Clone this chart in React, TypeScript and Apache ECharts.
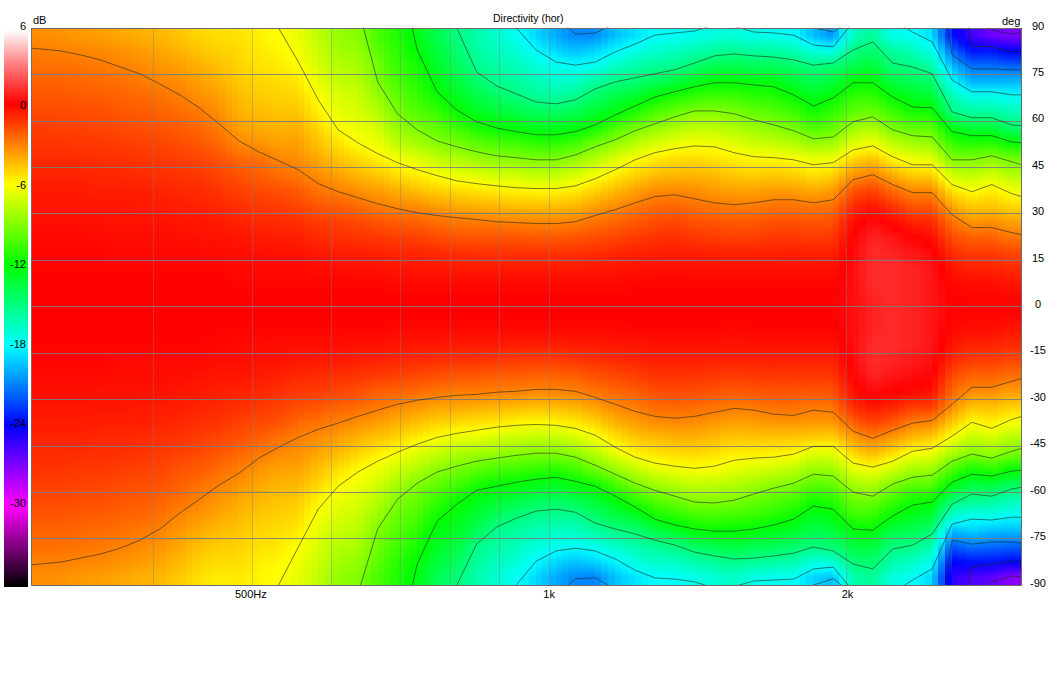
import React, { useEffect, useRef } from "react";
import * as echarts from "echarts";

// Cell centres of the level table
const angleRows = [87.5,82.5,77.5,72.5,67.5,62.5,57.5,52.5,47.5,42.5,37.5,32.5,27.5,22.5,17.5,12.5,7.5,2.5,-2.5,-7.5,-12.5,-17.5,-22.5,-27.5,-32.5,-37.5,-42.5,-47.5,-52.5,-57.5,-62.5,-67.5,-72.5,-77.5,-82.5,-87.5];
const columnHz = [307,321.5,336.6,352.4,369,386.4,404.6,423.7,443.6,464.5,486.4,509.3,533.3,558.4,584.7,612.3,641.1,671.3,702.9,736,770.6,806.9,844.9,884.7,926.4,970,1016,1063,1113,1166,1221,1278,1339,1402,1468,1537,1609,1685,1765,1848,1935,2026,2121,2221,2326,2435,2550,2670,2796,2928];
const contourHz = [300, ...columnHz, 3000];

// Level in tenths of a dB, one list per frequency column, from +87.5 deg down to -87.5 deg
const levelColumns = [
[-33,-29,-26,-23,-20,-17,-14,-12,-10,-8,-6,-5,-3,-2,-1,-1,0,0, 0,0,-1,-1,-2,-3,-5,-6,-8,-10,-12,-14,-17,-20,-23,-26,-30,-33],
[-34,-30,-26,-23,-20,-17,-15,-12,-10,-8,-6,-5,-3,-2,-1,-1,0,0, 0,0,-1,-1,-2,-3,-5,-6,-8,-10,-12,-15,-17,-20,-23,-26,-30,-34],
[-36,-31,-27,-24,-21,-18,-15,-13,-10,-8,-6,-5,-3,-2,-1,-1,0,0, 0,0,-1,-1,-2,-3,-5,-6,-8,-10,-13,-15,-18,-21,-24,-27,-31,-36],
[-37,-32,-28,-25,-21,-18,-16,-13,-11,-9,-7,-5,-4,-2,-1,-1,0,0, 0,0,-1,-1,-2,-4,-5,-7,-9,-11,-13,-16,-18,-21,-25,-28,-32,-37],
[-39,-34,-30,-26,-23,-20,-17,-14,-11,-9,-7,-5,-4,-3,-2,-1,0,0, 0,0,-1,-2,-3,-4,-5,-7,-9,-11,-14,-17,-20,-23,-26,-30,-34,-39],
[-41,-36,-32,-28,-24,-21,-18,-15,-12,-10,-7,-6,-4,-3,-2,-1,0,0, 0,0,-1,-2,-3,-4,-6,-7,-10,-12,-15,-18,-21,-24,-28,-32,-36,-41],
[-43,-39,-35,-31,-26,-23,-19,-16,-13,-11,-8,-6,-4,-3,-2,-1,0,0, 0,0,-1,-2,-3,-4,-6,-8,-11,-13,-16,-19,-23,-26,-31,-35,-39,-43],
[-46,-42,-37,-33,-29,-25,-21,-18,-14,-12,-9,-7,-5,-3,-2,-1,0,0, 0,0,-1,-2,-3,-5,-7,-9,-12,-15,-19,-22,-26,-31,-35,-39,-43,-47],
[-50,-46,-41,-37,-33,-28,-24,-20,-16,-13,-10,-8,-5,-4,-2,-1,0,0, 0,0,-1,-2,-4,-6,-8,-11,-14,-17,-21,-26,-30,-35,-40,-45,-49,-53],
[-53,-49,-45,-41,-37,-33,-29,-24,-19,-16,-12,-9,-6,-4,-3,-1,0,0, 0,-1,-1,-3,-5,-7,-9,-12,-16,-20,-25,-30,-35,-39,-44,-48,-52,-56],
[-53,-51,-49,-47,-44,-41,-37,-31,-24,-19,-15,-11,-8,-5,-3,-2,-1,0, 0,-1,-2,-3,-5,-8,-11,-15,-19,-24,-29,-34,-39,-43,-46,-49,-52,-55],
[-57,-55,-53,-50,-47,-44,-40,-34,-26,-22,-17,-13,-9,-6,-4,-2,-1,0, 0,-1,-2,-4,-6,-9,-13,-17,-22,-28,-34,-39,-43,-47,-50,-53,-56,-58],
[-60,-58,-55,-52,-49,-46,-42,-37,-31,-25,-19,-14,-10,-7,-4,-2,-1,0, 0,-1,-3,-4,-7,-11,-15,-19,-26,-32,-38,-42,-46,-49,-52,-55,-58,-60],
[-65,-62,-59,-54,-50,-46,-41,-37,-33,-28,-21,-16,-11,-7,-4,-2,-1,0, 0,-1,-3,-5,-9,-13,-18,-24,-30,-34,-38,-43,-47,-51,-55,-60,-63,-66],
[-75,-72,-69,-65,-60,-56,-50,-45,-39,-33,-27,-20,-14,-10,-6,-3,-1,0, 0,-1,-3,-6,-10,-14,-20,-27,-33,-39,-45,-50,-57,-62,-66,-69,-72,-75],
[-85,-82,-78,-74,-69,-65,-60,-53,-46,-38,-30,-22,-15,-11,-7,-3,-1,0, 0,-1,-3,-6,-11,-16,-23,-30,-37,-44,-52,-59,-65,-69,-73,-78,-82,-86],
[-88,-84,-80,-76,-72,-68,-64,-60,-51,-43,-34,-25,-17,-12,-7,-4,-1,0, 0,-1,-4,-7,-12,-18,-25,-33,-42,-50,-59,-63,-68,-72,-76,-80,-85,-89],
[-103,-98,-94,-90,-84,-77,-70,-64,-56,-47,-37,-29,-20,-13,-8,-4,-1,0, 0,-1,-4,-8,-14,-22,-28,-37,-46,-56,-63,-70,-77,-84,-90,-94,-98,-103],
[-113,-110,-107,-103,-97,-91,-84,-75,-62,-52,-41,-32,-22,-15,-9,-5,-2,0, 0,-2,-5,-9,-15,-23,-32,-41,-50,-61,-71,-81,-90,-95,-100,-105,-110,-113],
[-124,-120,-114,-111,-106,-100,-91,-80,-67,-56,-45,-33,-23,-15,-9,-5,-2,0, 0,-2,-5,-10,-17,-25,-35,-45,-56,-67,-78,-90,-96,-102,-108,-114,-120,-124],
[-138,-134,-129,-124,-117,-106,-97,-88,-74,-61,-49,-37,-26,-18,-10,-5,-2,0, 0,-2,-5,-11,-18,-28,-38,-49,-61,-74,-87,-97,-107,-116,-124,-129,-134,-139],
[-149,-145,-140,-133,-126,-118,-105,-92,-78,-65,-52,-40,-28,-20,-11,-6,-2,0, 0,-2,-6,-12,-20,-29,-39,-51,-65,-79,-92,-104,-117,-123,-128,-134,-141,-148],
[-160,-157,-153,-144,-135,-126,-113,-98,-83,-68,-54,-42,-29,-20,-12,-6,-2,0, 0,-2,-6,-12,-20,-29,-41,-53,-66,-83,-98,-114,-124,-132,-140,-151,-156,-160],
[-168,-164,-158,-153,-142,-131,-119,-102,-87,-71,-56,-43,-30,-20,-12,-6,-2,0, 0,-2,-6,-13,-22,-30,-42,-55,-70,-85,-103,-119,-130,-141,-153,-158,-164,-169],
[-176,-170,-163,-156,-148,-135,-122,-105,-88,-71,-57,-45,-31,-20,-12,-6,-2,0, 0,-2,-7,-14,-22,-30,-44,-57,-73,-88,-105,-122,-135,-148,-156,-163,-170,-177],
[-189,-180,-170,-162,-154,-140,-125,-109,-90,-75,-59,-45,-32,-21,-12,-6,-2,0, 0,-2,-7,-14,-23,-32,-45,-59,-75,-90,-108,-125,-140,-152,-162,-171,-181,-189],
[-200,-189,-176,-168,-156,-141,-126,-110,-90,-75,-58,-45,-32,-21,-12,-6,-2,0, 0,-2,-7,-14,-23,-31,-44,-58,-75,-90,-111,-127,-142,-154,-166,-176,-189,-200],
[-208,-194,-178,-166,-152,-138,-123,-104,-85,-70,-56,-43,-30,-20,-12,-6,-2,0, 0,-2,-6,-13,-22,-30,-42,-55,-71,-86,-105,-123,-138,-153,-166,-178,-194,-208],
[-207,-190,-176,-156,-143,-130,-115,-94,-77,-63,-50,-38,-27,-18,-11,-5,-2,0, 0,-2,-6,-11,-19,-27,-38,-50,-63,-78,-94,-117,-131,-144,-158,-175,-190,-209],
[-195,-181,-166,-150,-136,-123,-103,-85,-68,-56,-44,-33,-24,-16,-9,-5,-2,0, 0,-2,-5,-10,-17,-24,-32,-42,-54,-66,-84,-104,-123,-136,-151,-167,-182,-195],
[-187,-174,-159,-146,-129,-112,-92,-77,-60,-50,-38,-29,-21,-14,-8,-4,-1,0, 0,-1,-5,-9,-15,-22,-29,-37,-47,-57,-74,-91,-109,-129,-147,-160,-173,-186],
[-179,-168,-155,-140,-119,-102,-85,-69,-55,-45,-33,-25,-18,-12,-7,-4,-1,0, 0,-1,-4,-7,-12,-18,-25,-33,-44,-54,-66,-83,-100,-116,-137,-155,-167,-180],
[-178,-165,-152,-134,-113,-95,-79,-64,-52,-43,-32,-24,-16,-11,-7,-3,-1,0, 0,-1,-4,-7,-12,-17,-24,-32,-42,-52,-63,-78,-94,-111,-129,-151,-166,-179],
[-176,-161,-145,-126,-107,-88,-75,-62,-51,-43,-33,-26,-19,-13,-7,-4,-1,0, 0,-1,-4,-7,-12,-18,-25,-33,-42,-51,-61,-74,-88,-104,-122,-142,-160,-175],
[-172,-156,-138,-121,-104,-88,-75,-63,-53,-44,-36,-28,-20,-14,-8,-4,-1,0, 0,-1,-4,-8,-13,-19,-27,-35,-44,-53,-61,-75,-88,-103,-120,-138,-155,-171],
[-171,-153,-137,-121,-105,-91,-79,-67,-56,-47,-38,-29,-21,-15,-8,-4,-1,0, 0,-2,-4,-8,-14,-21,-29,-38,-47,-56,-66,-78,-90,-105,-120,-134,-152,-166],
[-175,-157,-139,-123,-109,-96,-83,-71,-58,-49,-38,-29,-21,-15,-8,-4,-1,0, 0,-1,-4,-8,-13,-20,-28,-37,-46,-56,-69,-81,-95,-107,-122,-138,-155,-175],
[-176,-158,-140,-124,-111,-99,-87,-74,-58,-47,-37,-27,-19,-13,-8,-4,-1,0, 0,-1,-4,-7,-13,-19,-26,-35,-47,-57,-71,-87,-100,-112,-126,-140,-158,-176],
[-179,-161,-144,-131,-118,-105,-92,-77,-60,-49,-37,-27,-19,-13,-7,-4,-1,0, 0,-1,-4,-8,-13,-19,-26,-35,-47,-58,-75,-90,-104,-117,-130,-144,-160,-178],
[-195,-172,-148,-138,-126,-115,-102,-84,-64,-53,-40,-28,-20,-14,-8,-4,-1,0, 0,-1,-4,-8,-13,-20,-28,-36,-48,-68,-84,-99,-115,-127,-138,-149,-171,-190],
[-205,-175,-146,-134,-120,-108,-96,-82,-63,-50,-37,-27,-19,-13,-8,-4,-1,0, 0,-1,-4,-8,-13,-19,-27,-36,-50,-67,-83,-97,-111,-122,-135,-146,-170,-195],
[-165,-150,-137,-121,-108,-97,-83,-67,-50,-35,-20,-10,-3,0,2,3,3,3, 3,3,3,2,0,-4,-10,-22,-37,-51,-66,-81,-94,-106,-122,-135,-148,-160],
[-155,-144,-132,-120,-107,-94,-78,-62,-45,-30,-15,-5,3,8,10,10,10,8, 8,8,10,10,8,3,-5,-15,-30,-44,-62,-78,-94,-107,-121,-133,-145,-155],
[-175,-156,-147,-135,-119,-105,-91,-74,-57,-40,-25,-12,-2,5,8,10,10,10, 10,10,10,8,5,0,-8,-20,-36,-52,-70,-90,-105,-119,-136,-149,-160,-172],
[-177,-164,-150,-139,-127,-114,-97,-82,-63,-49,-32,-20,-8,0,5,8,8,8, 8,8,8,6,3,-2,-14,-29,-44,-62,-81,-98,-115,-127,-139,-151,-165,-178],
[-188,-174,-158,-144,-130,-115,-98,-84,-65,-49,-32,-20,-10,-3,2,5,5,5, 5,5,5,4,1,-4,-14,-31,-48,-63,-83,-99,-118,-132,-147,-160,-175,-190],
[-235,-215,-196,-178,-161,-149,-124,-107,-90,-72,-54,-39,-27,-18,-11,-5,-2,0, 0,-2,-5,-10,-17,-24,-33,-47,-62,-80,-101,-122,-146,-168,-196,-220,-240,-250],
[-255,-236,-213,-197,-173,-156,-132,-112,-90,-76,-61,-48,-35,-23,-14,-8,-3,-1, -1,-3,-8,-14,-23,-33,-46,-60,-75,-89,-115,-135,-152,-175,-191,-212,-236,-258],
[-266,-235,-213,-197,-173,-156,-132,-110,-86,-70,-56,-46,-34,-23,-14,-8,-3,-1, -1,-3,-8,-14,-23,-33,-45,-56,-70,-85,-109,-133,-155,-174,-195,-215,-236,-262],
[-269,-241,-216,-196,-177,-162,-143,-118,-92,-78,-63,-51,-38,-28,-17,-10,-5,-1, -1,-5,-10,-17,-26,-37,-49,-62,-78,-92,-118,-141,-162,-178,-196,-217,-239,-272],
];

// Contour lines, in degrees, at 300 Hz, at every column and at 3 kHz; "blank" = the line is absent there
const blank = (n: number) => Array(n).fill(null);
const topMinus3 = [83.5,83.2,82.6,81.3,79.7,77.4,75.2,71.9,68.4,64.2,59,53.5,50,47.1,44.2,39.7,37.1,35.2,33.2,31.6,30.3,29.4,28.7,28.1,27.4,27.1,26.8,26.8,27.4,29.4,31.3,33.5,35.5,36.1,34.8,33.5,32.9,33.5,34.5,34.5,33.5,34.5,41,42.6,39.4,36.8,36.8,29.7,25.5,25.5,23.9,23.2];
const topMinus6 = [...blank(13),90,79,66.8,57.1,52.9,49.4,46.5,44.2,42.3,40.6,39.7,39,38.4,38.1,38.1,39,41.3,44.2,47.4,49.7,51,51.9,51.6,49.7,48.4,48.1,47.4,45.8,46.5,50.6,51.9,48.4,45.8,45.8,39.4,37.1,39.4,36.5,35.5];
const topMinus9 = [...blank(17),97,72.6,62.3,57.1,53.5,51.6,50,48.7,48.1,47.4,47.4,49,51.6,53.9,56.8,59,61.3,63.2,63.2,62.3,60.3,58.7,56.8,54.2,54.8,59.7,61.3,57.1,55.2,54.8,47.4,47.4,48.7,46.8,45.8];
const topMinus12 = [...blank(19),111,82.9,69.4,63.5,59.7,57.7,56.5,55.5,55.5,56.5,58.7,61.9,64.8,67.7,69.4,71,72.3,72.3,71.6,71,68.4,64.8,67.4,72.3,72.3,67.7,64.5,64.2,56.5,55.2,55.2,53.2,52.9];
const topMinus15 = [...blank(22),90,75.8,71.3,68.7,66.1,65.5,66.8,70.3,72.6,73.9,75.2,76.5,78.7,81,81.6,81,80.6,79.7,78,78.7,82.9,85.5,78.7,77.4,75.2,62.9,61,61,58.7,58.4];
const topMinus18 = [...blank(25),90,82.9,79,78,79,82.3,84.8,87.7,88.4,89,91,90.5,88.7,88.4,87.7,84.5,83.9,92,95,92.5,88.7,85.5,73.2,69.4,69.4,68.4,68.4];
const topMinus21 = [...blank(27),93.5,88,88.4,91.3,...blank(9),90,88.7,93,...blank(3),120,81.3,76.8,76.8,76.5,76.5];
const topMinus24 = [...blank(47),120,84.2,83.9,82.3,82.6];
const topMinus27 = [...blank(48),95,89.4,88,88.4];
const botMinus3 = [-83.5,-83.2,-82.6,-81.3,-80,-78.1,-75.5,-71.9,-66.8,-62.3,-57.7,-53.9,-49,-45.5,-42.3,-39.7,-37.7,-35.5,-33.5,-31.6,-30.3,-29.4,-28.7,-28.4,-27.7,-27.4,-26.8,-26.8,-27.4,-29.4,-31.6,-33.9,-35.5,-36.1,-35.5,-34.2,-32.9,-33.5,-34.8,-35.2,-33.5,-34.2,-40.3,-42.6,-40,-37.7,-36.8,-31.6,-26.1,-26.1,-24.2,-23.2];
const botMinus6 = [...blank(13),-90,-77.7,-65.5,-58.1,-53.5,-50,-47.1,-44.5,-42.3,-41,-40,-39,-38.4,-38.1,-38.4,-39.4,-41.6,-45.5,-48.7,-50.6,-51.6,-52.3,-51.6,-49.7,-49,-48.7,-47.7,-45.2,-45.2,-50.6,-51.9,-50,-46.8,-45.8,-41.9,-37.4,-39.4,-36.5,-35.5];
const botMinus9 = [...blank(17),-93,-71.9,-62.3,-57.1,-53.5,-51.6,-50,-49,-48.1,-47.4,-47.4,-48.7,-51.3,-54.2,-57.1,-59.4,-61.3,-63.2,-63.5,-62.6,-60.6,-58.7,-57.1,-54.2,-54.8,-60,-61.3,-57.4,-55.2,-54.5,-50,-47.7,-49,-46.8,-45.8];
const botMinus12 = [...blank(19),-111,-83.2,-69.4,-63.9,-59.4,-58.1,-56.8,-55.8,-55.2,-56.5,-58.1,-61.3,-64.8,-68.7,-70.6,-71.9,-72.6,-72.6,-71.9,-70.6,-68.7,-64.5,-65.5,-71.9,-72.3,-67.7,-64.2,-63.2,-56.8,-54.2,-54.8,-53.2,-52.9];
const botMinus15 = [...blank(22),-90,-76.8,-71.3,-68.4,-66.1,-65.5,-66.5,-70,-71.9,-73.5,-75.5,-77.1,-79.4,-80.6,-81.6,-81.3,-80.6,-79.7,-77.7,-79,-83.2,-84.8,-78.4,-77.1,-73.5,-63.9,-60.6,-61.3,-59,-58.4];
const botMinus18 = [...blank(25),-90,-82.3,-79,-78.1,-79,-81.6,-85.2,-87.7,-88.1,-89,-91,-90.5,-88.7,-88.4,-88.1,-84.8,-84.2,-92,-95,-92.5,-88.4,-84.8,-70.3,-68.7,-69,-68.1,-68.1];
const botMinus21 = [...blank(27),-93.5,-88,-87.7,-91.3,...blank(9),-90,-88,-93,...blank(3),-120,-75.5,-76.8,-76.1,-76.1,-76.5];
const botMinus24 = [...blank(47),-120,-84.2,-83.2,-82.3,-82.6];
const botMinus27 = [...blank(48),-95,-89,-87.1,-87.4];
const contours = [topMinus3,topMinus6,topMinus9,topMinus12,topMinus15,topMinus18,topMinus21,topMinus24,topMinus27,botMinus3,botMinus6,botMinus9,botMinus12,botMinus15,botMinus18,botMinus21,botMinus24,botMinus27];

const freqGridHz = [400,500,600,700,800,900,1000,2000];
const angleGrid = [75,60,45,30,15,0,-15,-30,-45,-60,-75];
const freqLabelsHz = [500,1000,2000];

const scaleDb = [6,3,0,-3,-6,-9,-12,-15,-18,-21,-24,-27,-30,-33,-36];
const scaleRgb = [[255,255,255],[255,128,128],[255,0,0],[255,128,0],[255,255,0],[128,255,0],[0,255,0],[0,255,128],[0,255,255],[0,128,255],[0,0,255],[128,0,255],[255,0,255],[128,0,128],[0,0,0]];

const FONT = "'Liberation Sans', Arial, sans-serif";

// dB level to the colour of the reference's scale
function colorOf(db: number) {
  const pos = Math.min(scaleDb.length - 1.001, Math.max(0, (6 - db) / 3));
  const a = Math.floor(pos);
  const t = pos - a;
  const c = scaleRgb[a].map((v, i) => Math.round(v + (scaleRgb[a + 1][i] - v) * t));
  return `rgb(${c[0]},${c[1]},${c[2]})`;
}

// Vertical colour ramp of one painted strip, blended between two read columns
function stripFill(colA: number[], colB: number[], t: number) {
  const at = (r: number) => (colA[r] * (1 - t) + colB[r] * t) / 10;
  const colorStops: { offset: number; color: string }[] = [];
  angleRows.forEach((angle, r) => {
    colorStops.push({ offset: (90 - angle) / 180, color: colorOf(at(r)) });
    if (r < angleRows.length - 1) {
      colorStops.push({ offset: (90 - angle + 2.5) / 180, color: colorOf((at(r) + at(r + 1)) / 2) });
    }
  });
  return { type: "linear", x: 0, y: 0, x2: 0, y2: 1, colorStops };
}

const STRIPS = 3;

function renderColumn(params: any, api: any) {
  const i = params.dataIndex;
  const yTop = api.coord([Math.log10(columnHz[0]), 90])[1];
  const yBot = api.coord([Math.log10(columnHz[0]), -90])[1];
  const xOf = (hz: number) => api.coord([Math.log10(hz), 0])[0];
  const children: any[] = [];
  const strip = (x0: number, x1: number, fill: any) => {
    const a = Math.floor(x0);
    const b = Math.ceil(x1);
    children.push({ type: "rect", shape: { x: a, y: yTop, width: b - a, height: yBot - yTop }, style: { fill } });
  };
  const cur = levelColumns[i];
  if (i === 0) strip(xOf(300), xOf(columnHz[0]), stripFill(cur, cur, 0));
  if (i === columnHz.length - 1) {
    strip(xOf(columnHz[i]), xOf(3000), stripFill(cur, cur, 0));
  } else {
    const xa = xOf(columnHz[i]);
    const xb = xOf(columnHz[i + 1]);
    for (let k = 0; k < STRIPS; k++) {
      strip(xa + ((xb - xa) * k) / STRIPS, xa + ((xb - xa) * (k + 1)) / STRIPS, stripFill(cur, levelColumns[i + 1], (k + 0.5) / STRIPS));
    }
  }
  return { type: "group", children };
}

export default function App() {
  const ref = useRef<HTMLDivElement>(null);
  useEffect(() => {
    const chart = echarts.init(ref.current!, undefined, { renderer: "svg" });
    // colour bar: 0 dB sits at y=104, and 13.4 px make one dB
    const barTop = 30, barH = 557;
    const stopOffset = (db: number) => Math.min(1, Math.max(0, (104 - db * 13.4 - barTop) / barH));
    const barStops = scaleDb.map((db) => ({ offset: stopOffset(db), color: colorOf(db) }));
    const contourSeries = contours.map((arr, k) => ({
      type: "line",
      xAxisIndex: 0,
      yAxisIndex: 0,
      data: arr.map((a, i) => [Math.log10(contourHz[i]), a]),
      showSymbol: false,
      symbol: "none",
      silent: true,
      z: 4,
      clip: true,
      lineStyle: { color: "rgba(30,40,30,0.6)", width: 1 },
      ...(k === 0
        ? {
            markLine: {
              silent: true,
              symbol: "none",
              animation: false,
              label: { show: false },
              z: 3,
              data: [
                ...freqGridHz.map((f) => ({ xAxis: Math.log10(f), lineStyle: { color: "rgba(128,128,128,0.4)", width: 1, type: "solid" } })),
                ...angleGrid.map((a) => ({ yAxis: a, lineStyle: { color: "rgba(125,125,125,0.9)", width: 1, type: "solid" } })),
              ],
            },
          }
        : {}),
    }));
    chart.setOption({
      animation: false,
      backgroundColor: "#fff",
      title: {
        text: "Directivity (hor)",
        left: 488,
        top: 7,
        padding: 5,
        textStyle: { fontSize: 10.5, fontWeight: "normal", color: "#000", fontFamily: FONT },
      },
      grid: [
        { left: 31, top: 28, width: 991, height: 557 },
        { left: 4, top: 26, width: 24, height: 556 },
      ],
      xAxis: [
        {
          type: "value",
          gridIndex: 0,
          min: Math.log10(300),
          max: Math.log10(3000),
          position: "bottom",
          splitLine: { show: false },
          axisLine: { show: false },
          axisTick: { show: false },
          axisLabel: {
            customValues: freqLabelsHz.map((f) => Math.log10(f)),
            margin: 3,
            fontSize: 11,
            color: "#000",
            fontFamily: FONT,
            formatter: (v: number) => {
              const hz = Math.round(10 ** v);
              return hz >= 1000 ? hz / 1000 + "k" : hz + "Hz";
            },
          },
        },
        { type: "value", gridIndex: 1, show: false, min: 0, max: 1 },
      ],
      yAxis: [
        {
          type: "value",
          gridIndex: 0,
          min: -90,
          max: 90,
          interval: 15,
          position: "right",
          splitLine: { show: false },
          axisLine: { show: false },
          axisTick: { show: false },
          axisLabel: { margin: 16, align: "center", verticalAlign: "bottom", lineHeight: 5, fontSize: 11, color: "#000", fontFamily: FONT },
        },
        {
          type: "value",
          gridIndex: 1,
          min: -36,
          max: 6,
          interval: 6,
          position: "right",
          z: 5,
          splitLine: { show: false },
          axisLine: { show: false },
          axisTick: { show: false },
          axisLabel: {
            inside: true,
            margin: 2,
            fontSize: 11,
            fontFamily: FONT,
            color: (v: number) => (v === -24 || v === -36 ? "#fff" : "#000"),
          },
        },
      ],
      graphic: [
        {
          type: "rect",
          z: 0,
          shape: { x: 4, y: barTop, width: 24, height: barH },
          style: { fill: { type: "linear", x: 0, y: 0, x2: 0, y2: 1, colorStops: barStops } },
        },
        {
          type: "rect",
          z: 100,
          shape: { x: 31.5, y: 28.5, width: 990, height: 557 },
          style: { fill: "none", stroke: "#6b6b6b", lineWidth: 1 },
        },
        { type: "text", z: 100, x: 33, y: 14, style: { text: "dB", font: `11px ${FONT}`, fill: "#000" } },
        { type: "text", z: 100, x: 1002, y: 15, style: { text: "deg", font: `11px ${FONT}`, fill: "#000" } },
      ],
      series: [
        {
          type: "custom",
          xAxisIndex: 0,
          yAxisIndex: 0,
          renderItem: renderColumn,
          data: columnHz.map((hz, i) => [Math.log10(hz), ...levelColumns[i].map((v) => v / 10)]),
          encode: { x: 0, y: 1 },
          silent: true,
          clip: true,
          z: 2,
        },
        ...contourSeries,
      ],
    });
    return () => chart.dispose();
  }, []);
  return <div ref={ref} style={{ position: "absolute", left: 0, top: 0, width: 1057, height: 675 }} />;
}
